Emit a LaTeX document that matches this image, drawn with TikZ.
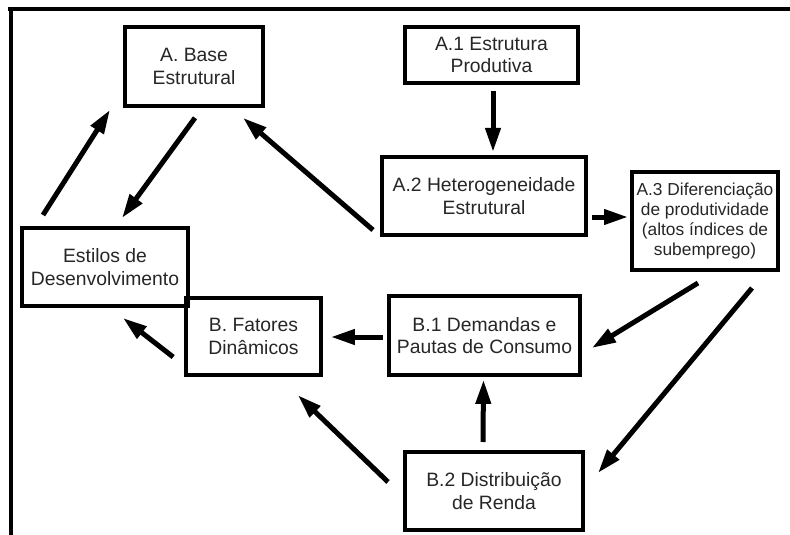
\documentclass[tikz,border=0pt]{standalone}
\usepackage{fontspec}
\setmainfont{Liberation Sans}
\usetikzlibrary{arrows.meta}

\begin{document}
\begin{tikzpicture}[x=0.75pt,y=-0.75pt,
  box/.style={draw,line width=3pt,align=center,text=black!85,
    font=\fontsize{14.5}{17}\selectfont},
  seta/.style={line width=3.75pt,-{Triangle[length=18pt,width=11pt]}},
  frame/.style={line width=3pt}]
\useasboundingbox (0,0) rectangle (790,535);
\draw[frame] (8,9.5)--(790,9.5);
\draw[frame] (10.5,8)--(10.5,535);
\node[box,minimum width=103.5pt,minimum height=59pt] (base) at (194,66.5) {A. Base\\Estrutural};
\node[box,minimum width=130pt,minimum height=42pt] (a1) at (491.5,55) {A.1 Estrutura\\Produtiva};
\node[box,minimum width=153pt,minimum height=58.5pt] (a2) at (484,196) {A.2 Heterogeneidade\\Estrutural};
\node[box,minimum width=109.5pt,minimum height=73.5pt,
  font=\fontsize{13}{15}\selectfont] (a3) at (705,221)
  {A.3 Diferencia\c{c}\~ao\\de produtividade\\(altos \'indices de\\subemprego)};
\node[box,minimum width=124.5pt,minimum height=58.5pt] (estilos) at (105,267) {Estilos de\\Desenvolvimento};
\node[box,minimum width=101pt,minimum height=58pt] (bf) at (253.5,336.5) {B. Fatores\\Din\^amicos};
\node[box,minimum width=143pt,minimum height=59pt] (b1) at (484.5,335.5) {B.1 Demandas e\\Pautas de Consumo};
\node[box,minimum width=133.5pt,minimum height=58.5pt] (b2) at (494,491) {B.2 Distribui\c{c}\~ao\\de Renda};
% setas
\draw[seta]([shift={(23,-11)}]estilos.north west)--([shift={(-13,2)}]base.south west);
\draw[seta]([shift={(1,10)}]base.south)--([shift={(17,-8)}]estilos.north);
\draw[seta]([shift={(-7,-7)}]a2.south west)--([shift={(-22,10)}]base.south east);
\draw[seta]([shift={(1.5,6)}]a1.south)--([shift={(9,-3)}]a2.north);
\draw[seta]([shift={(4,21)}]a2.east)--([shift={(-2,-4)}]a3.west);
\draw[seta]([shift={(-7,11)}]a3.south)--([shift={(10,12.5)}]b1.east);
\draw[seta]([shift={(-28,16)}]a3.south east)--([shift={(13,23)}]b2.north east);
\draw[seta]([shift={(-11,-8)}]b2.north)--([shift={(-1,3)}]b1.south);
\draw[seta]([shift={(-4,1.5)}]b1.west)--([shift={(8,0.5)}]bf.east);
\draw[seta]([shift={(-11,20.5)}]bf.west)--([shift={(18,10)}]estilos.south);
\draw[seta]([shift={(-15,-9)}]b2.west)--([shift={(-25,18)}]bf.south east);
\end{tikzpicture}
\end{document}
